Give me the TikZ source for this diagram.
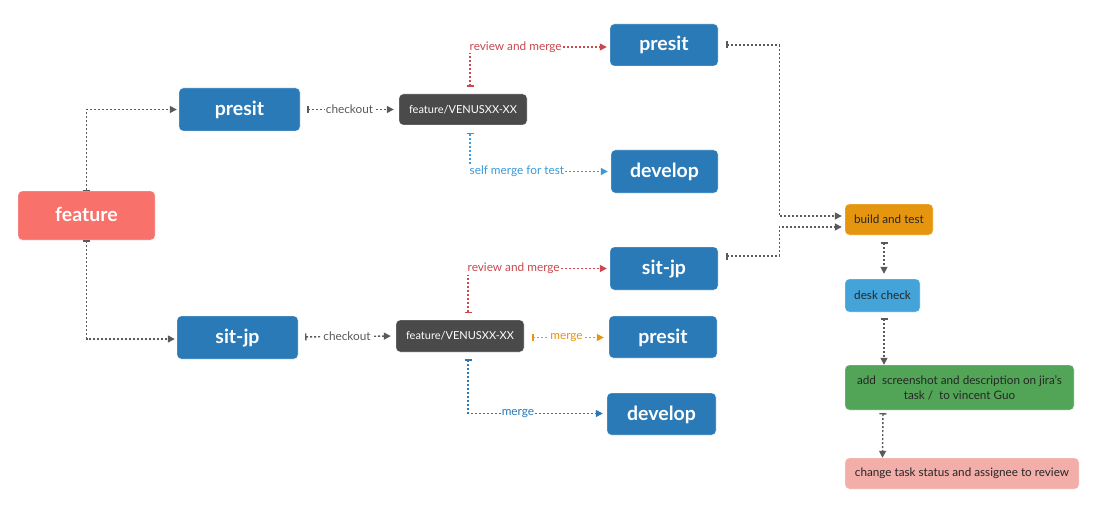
\documentclass[tikz,border=0pt]{standalone}
\usepackage{fontspec}
\setmainfont{Lato}
\usetikzlibrary{arrows.meta,calc}
\definecolor{bluebox}{HTML}{2A7AB8}
\definecolor{featc}{HTML}{F8716B}
\definecolor{darkbox}{HTML}{4A4A4A}
\definecolor{buildc}{HTML}{E6960E}
\definecolor{deskc}{HTML}{44A4DA}
\definecolor{addc}{HTML}{52A557}
\definecolor{changec}{HTML}{F3AEA9}
\definecolor{grayl}{HTML}{5A5A5A}
\definecolor{redl}{HTML}{C8494E}
\definecolor{lbluel}{HTML}{3A9ADA}
\definecolor{orangel}{HTML}{E6960E}
\definecolor{dbluel}{HTML}{2A78B8}
\tikzset{
  box/.style={rounded corners=4pt, inner sep=0pt, draw=white, line width=0.4pt},
  bigbox/.style={box, fill=bluebox, text=white, font=\fontsize{19.5}{22}\selectfont\bfseries,
    text height=14.5pt, text depth=2.5pt},
  darkn/.style={box, fill=darkbox, text=white, font=\fontsize{11}{13}\selectfont},
  stepn/.style={box, text=black!85, font=\fontsize{11.7}{15}\selectfont},
  conn/.style={line width=1.4pt, dash pattern=on 2pt off 2pt,
    {Bar[width=7pt,line width=1.3pt]}-{Triangle[length=7pt,width=7pt]}},
  lbl/.style={fill=white, inner sep=1pt, font=\fontsize{11.8}{13}\selectfont},
}
\begin{document}
\begin{tikzpicture}[x=1pt,y=-1pt]
\useasboundingbox (0,0) rectangle (1095,516);
% nodes
\node[box, fill=featc, text=white, font=\fontsize{19.5}{22}\selectfont\bfseries,
  text height=14.5pt, text depth=2.5pt,
  minimum width=137pt, minimum height=49pt] (feature) at (86.5,215.5) {feature};
\node[bigbox, minimum width=121pt, minimum height=43pt] (presitA) at (239.5,109.5) {presit};
\node[bigbox, minimum width=121pt, minimum height=43pt] (sitjpA) at (237.5,337.5) {sit-jp};
\node[darkn, minimum width=128pt, minimum height=31pt] (fvA) at (463,109.5) {feature/VENUSXX-XX};
\node[darkn, minimum width=128pt, minimum height=32pt] (fvB) at (460,336) {feature/VENUSXX-XX};
\node[bigbox, minimum width=108pt, minimum height=42pt] (presitB) at (664,45) {presit};
\node[bigbox, minimum width=107pt, minimum height=43pt] (developA) at (664.5,171.5) {develop};
\node[bigbox, minimum width=108pt, minimum height=43pt] (sitjpB) at (664,268.5) {sit-jp};
\node[bigbox, minimum width=108pt, minimum height=42pt] (presitC) at (663,337) {presit};
\node[bigbox, minimum width=109pt, minimum height=42pt] (developB) at (661.5,414) {develop};
\node[stepn, fill=buildc, minimum width=88pt, minimum height=31pt] (build) at (889,219.5) {build and test};
\node[stepn, fill=deskc, minimum width=75pt, minimum height=33pt] (desk) at (882.5,295.5) {desk check};
\node[stepn, fill=addc, minimum width=229pt, minimum height=45pt, align=center] (add) at (959.5,387.5)
  {add\ \ screenshot and description on jira's\\task /\ \ to vincent Guo};
\node[stepn, fill=changec, minimum width=234pt, minimum height=31pt] (change) at (962,473.5)
  {change task status and assignee to review};
% connectors
\draw[conn, grayl, shorten >=2pt] (feature.north) |- (presitA.west);
\draw[conn, grayl, shorten >=2pt] (feature.south) |- ([yshift=-1.5pt]sitjpA.west);
\draw[conn, grayl, shorten <=7pt, shorten >=5pt] (presitA.east) -- node[lbl, text=grayl]{checkout} (fvA.west);
\draw[conn, grayl, shorten <=7pt, shorten >=5pt] ([yshift=0.5pt]sitjpA.east) -- node[lbl, text=grayl]{checkout} (fvB.west);
\draw[conn, redl, shorten <=7pt, shorten >=3pt] ([xshift=7pt]fvA.north) |- node[lbl, text=redl, anchor=west, pos=0.5, xshift=-2pt]{review and merge} ([yshift=-2pt]presitB.west);
\draw[conn, lbluel, shorten <=8pt, shorten >=3pt] ([xshift=7pt]fvA.south) |- node[lbl, text=lbluel, anchor=west, pos=0.5, xshift=-2pt]{self merge for test} (developA.west);
\draw[conn, redl, shorten <=7pt, shorten >=3pt] ([xshift=8pt]fvB.north) |- node[lbl, text=redl, anchor=west, pos=0.5, xshift=-2pt]{review and merge} (sitjpB.west);
\draw[conn, orangel, shorten <=8pt, shorten >=5pt] ([yshift=-1.5pt]fvB.east) -- node[lbl, text=orangel]{merge} ([yshift=-0.5pt]presitC.west);
\draw[conn, dbluel, shorten <=7pt, shorten >=4pt] ([xshift=8pt]fvB.south) |- node[lbl, text=dbluel, pos=0.68]{merge} ([yshift=0.5pt]developB.west);
\draw[conn, grayl, shorten <=8pt, shorten >=3pt] (presitB.east) -- ++(61,0) |- ([yshift=3.5pt]build.west);
\draw[conn, grayl, shorten <=8pt, shorten >=3pt] ([yshift=12.5pt]sitjpB.east) -- ++(61,0) |- ([yshift=-7.5pt]build.west);
\draw[conn, grayl, shorten <=7pt, shorten >=5pt] ([xshift=-5pt]build.south) -- ([xshift=1.5pt]desk.north);
\draw[conn, grayl, shorten <=6pt, shorten >=0pt] ([xshift=1.5pt]desk.south) -- ([xshift=-75.5pt]add.north);
\draw[conn, grayl, shorten <=3pt, shorten >=0pt] ([xshift=-76.5pt]add.south) -- ([xshift=-79.5pt]change.north);
\end{tikzpicture}
\end{document}
